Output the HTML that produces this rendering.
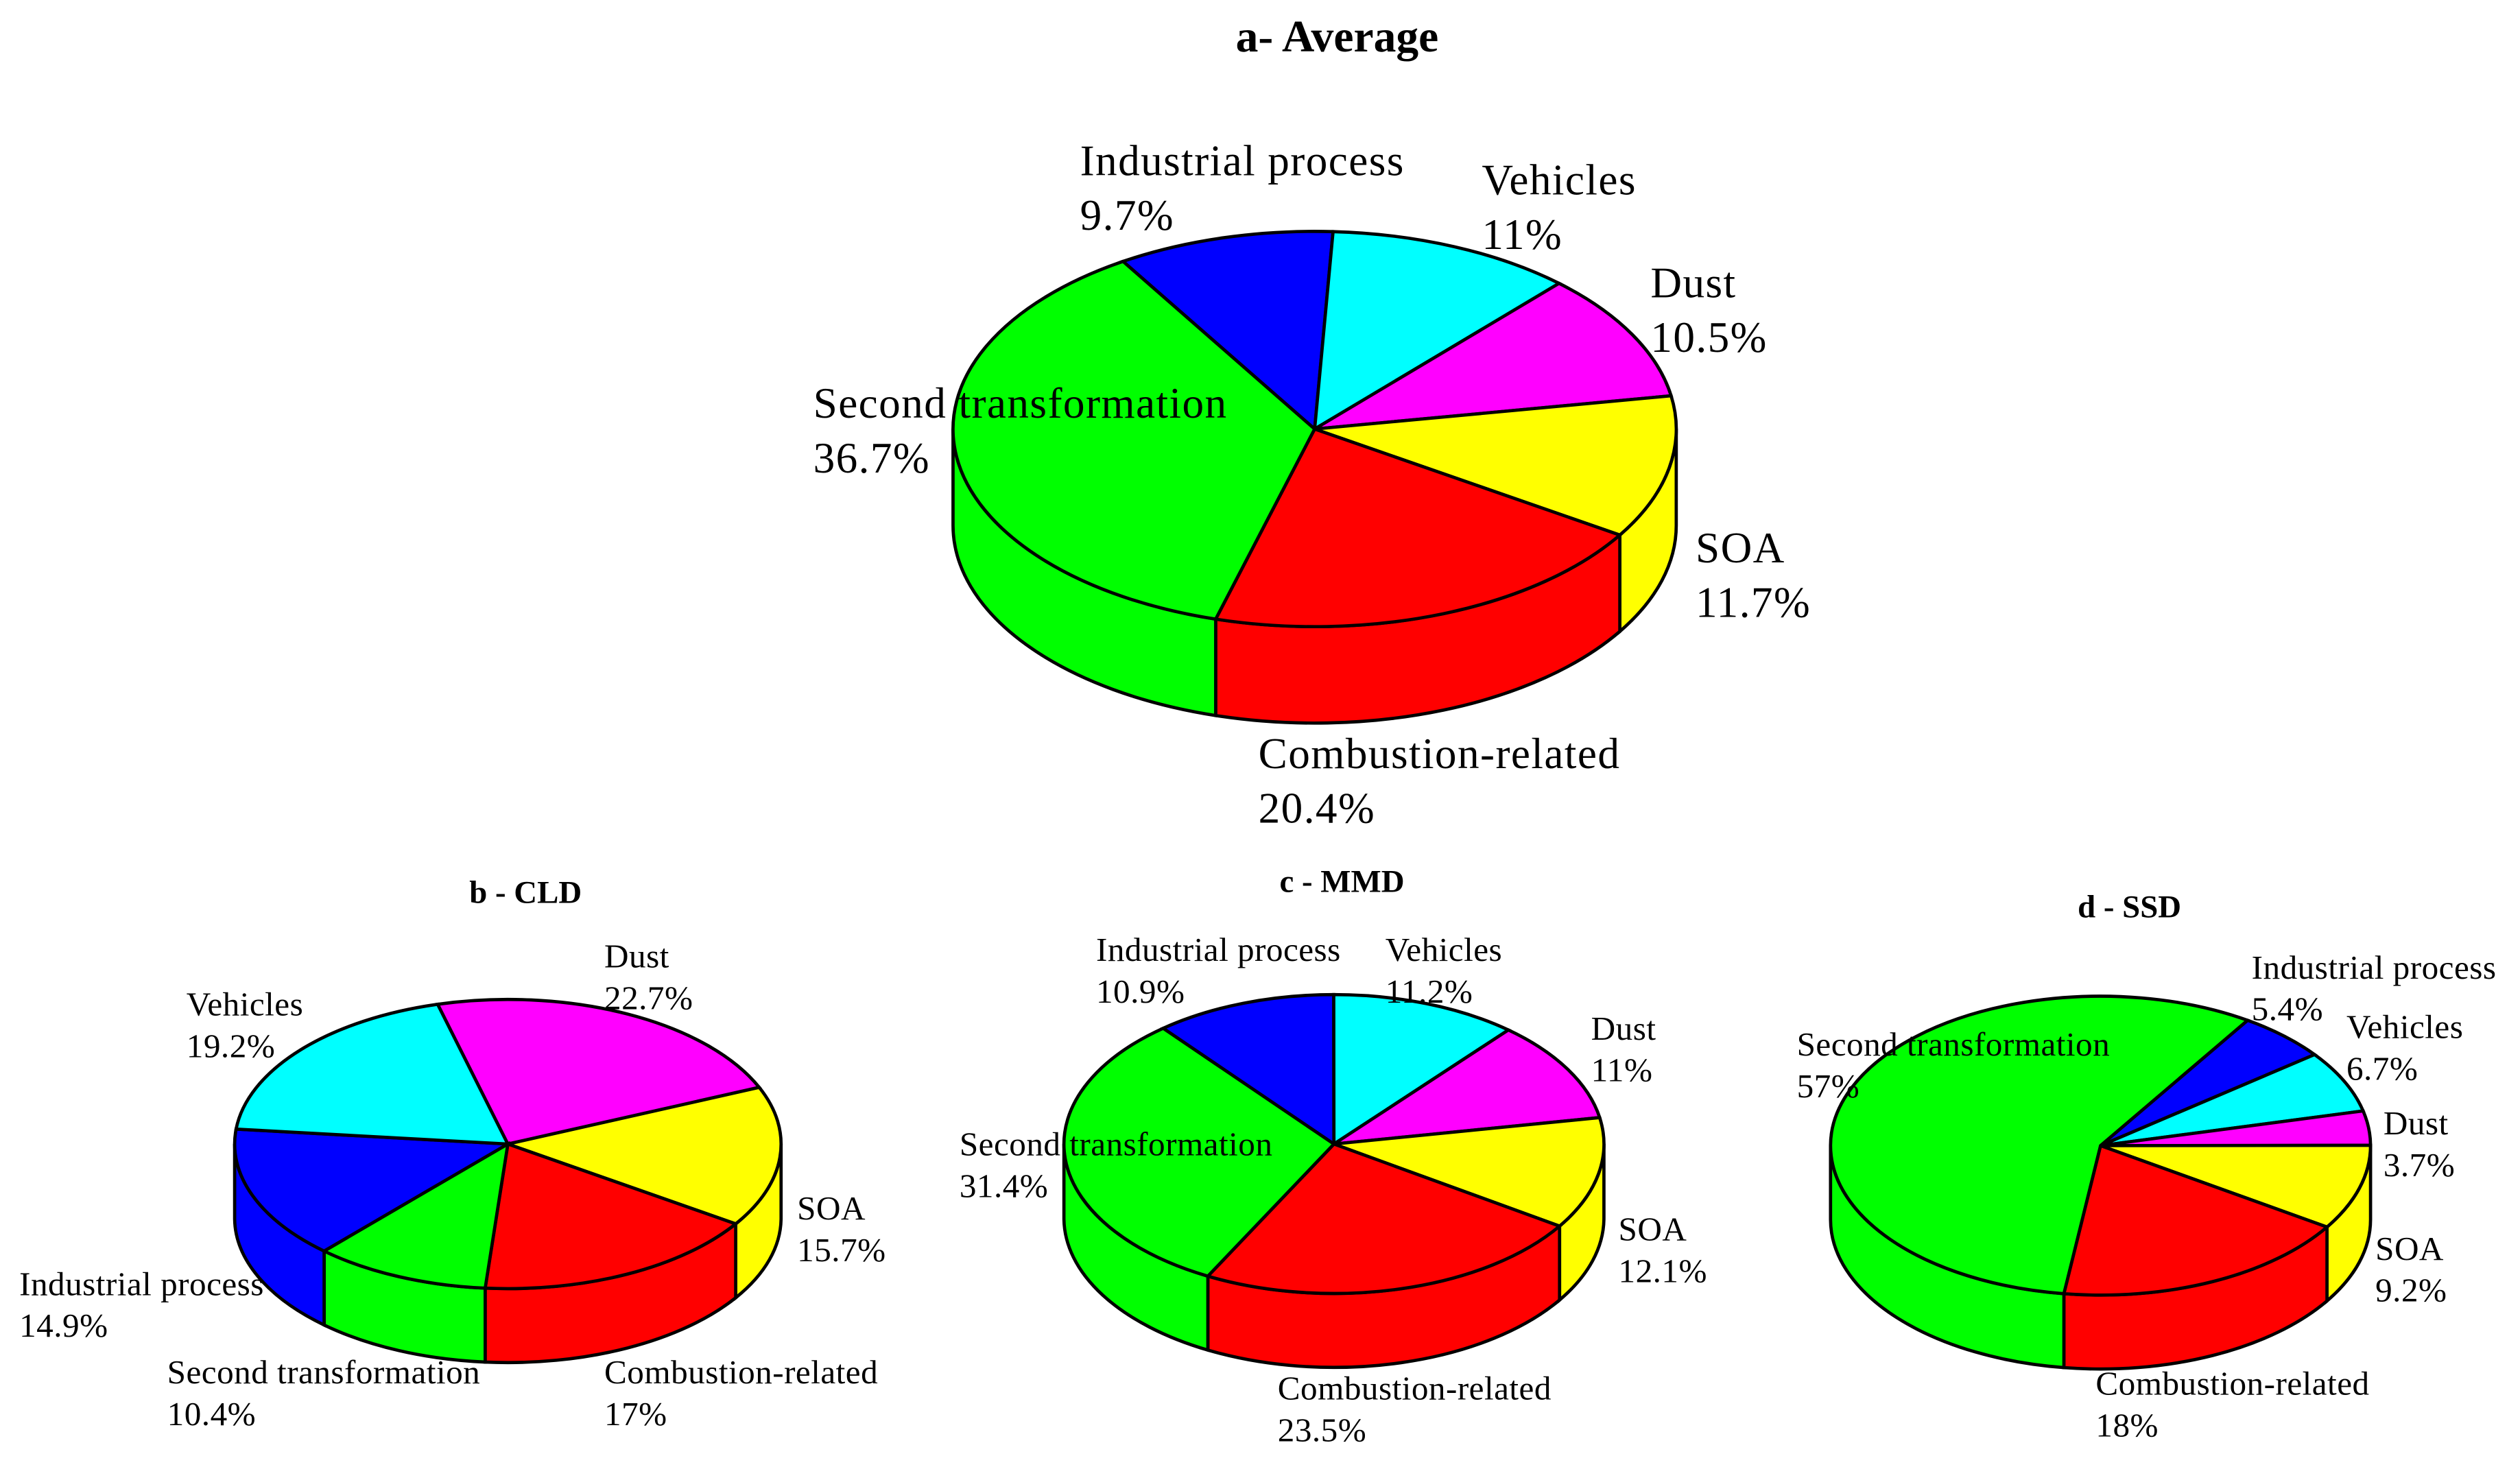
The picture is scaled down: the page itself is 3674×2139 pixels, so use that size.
<!DOCTYPE html>
<html><head><meta charset="utf-8"><style>
html,body{margin:0;padding:0;background:#fff;}
svg{display:block;}
text{font-family:"Liberation Serif",serif;fill:#000;}
</style></head><body>
<svg id="chart" width="3674" height="2139" viewBox="0 0 1568 913" preserveAspectRatio="none" xmlns="http://www.w3.org/2000/svg">
<rect width="1568" height="913" fill="#fff"/>
<text x="832" y="32" font-size="28" font-weight="bold" text-anchor="middle">a- Average</text>
<text x="327" y="562" font-size="20" font-weight="bold" text-anchor="middle">b - CLD</text>
<text x="835" y="555" font-size="20" font-weight="bold" text-anchor="middle">c - MMD</text>
<text x="1325" y="571" font-size="20" font-weight="bold" text-anchor="middle">d - SSD</text>
<g id="pies"></g>
<g id="labels"></g>
</svg>
<script>
// Category names and colors
const categories = ["Industrial process","Vehicles","Dust","SOA","Combustion-related","Second transformation"];
const colors = ["#0000ff","#00ffff","#ff00ff","#ffff00","#ff0000","#00ff00"];
// Percent values per panel (same category order)
const valuesA = [9.7, 11, 10.5, 11.7, 20.4, 36.7];
const valuesB = [14.9, 19.2, 22.7, 15.7, 17, 10.4];
const valuesC = [10.9, 11.2, 11, 12.1, 23.5, 31.4];
const valuesD = [5.4, 6.7, 3.7, 9.2, 18, 57];

// geometry (not data)
const panels = [
 {id:"a", vals:valuesA, cx:818, cy:267, rx:225, ry:123, d:60, start:-32, fs:27, ls:0.6,
  lab:[[672,109],[922,121],[1027,185],[1055,350],[783,478],[506,260]], lh:34},
 {id:"b", vals:valuesB, cx:316, cy:712, rx:170, ry:90, d:46, start:-15-(14.9+19.2)*3.6, fs:21, ls:0.2,
  lab:[[12,806],[116,632],[376,602],[496,759],[376,861],[104,861]], lh:26},
 {id:"c", vals:valuesC, cx:830, cy:712, rx:168, ry:93, d:46, start:-10.9*3.6, fs:21, ls:0.2,
  lab:[[682,598],[862,598],[990,647],[1007,772],[795,871],[597,719]], lh:26},
 {id:"d", vals:valuesD, cx:1307, cy:713, rx:168, ry:93, d:46, start:33, fs:21, ls:0.2,
  lab:[[1401,609],[1460,646],[1483,706],[1478,784],[1304,868],[1118,657]], lh:26}
];
const NS="http://www.w3.org/2000/svg";
const pies=document.getElementById("pies"), labels=document.getElementById("labels");
function pt(p,t,dy){const r=t*Math.PI/180;return [p.cx+p.rx*Math.sin(r), p.cy-p.ry*Math.cos(r)+(dy||0)];}
function f(a){return a[0].toFixed(2)+","+a[1].toFixed(2);}
panels.forEach(p=>{
  const g=document.createElementNS(NS,"g");
  
  
  pies.appendChild(g);
  const total=p.vals.reduce((s,v)=>s+v,0);
  let a=p.start; const angs=[];
  p.vals.forEach(v=>{const b=a+v/total*360; angs.push([a,b]); a=b;});
  angs.forEach((ab,i)=>{
    for(let k=-1;k<=1;k++){
      const s=Math.max(ab[0],90+360*k), e=Math.min(ab[1],270+360*k);
      if(e>s){
        const path=document.createElementNS(NS,"path");
        const large=(e-s)>180?1:0;
        const dstr="M"+f(pt(p,s))+" A"+p.rx+","+p.ry+" 0 "+large+" 1 "+f(pt(p,e))+" L"+f(pt(p,e,p.d))+" A"+p.rx+","+p.ry+" 0 "+large+" 0 "+f(pt(p,s,p.d))+" Z";
        path.setAttribute("d",dstr);
        path.setAttribute("fill",colors[i]);
        path.setAttribute("stroke","#000");
        path.setAttribute("stroke-width","2");
        
        
        g.appendChild(path);
      }
    }
  });
  angs.forEach((ab,i)=>{
    const path=document.createElementNS(NS,"path");
    const large=(ab[1]-ab[0])>180?1:0;
    path.setAttribute("d","M"+p.cx+","+p.cy+" L"+f(pt(p,ab[0]))+" A"+p.rx+","+p.ry+" 0 "+large+" 1 "+f(pt(p,ab[1]))+" Z");
    path.setAttribute("fill",colors[i]);
    path.setAttribute("stroke","#000");
    path.setAttribute("stroke-width","2");
    
    
    g.appendChild(path);
  });
  p.vals.forEach((v,i)=>{
    const t=document.createElementNS(NS,"text");
    t.setAttribute("x",p.lab[i][0]); t.setAttribute("y",p.lab[i][1]);
    t.setAttribute("font-size",p.fs);
    t.setAttribute("letter-spacing",p.ls);
    
    
    const s1=document.createElementNS(NS,"tspan"); s1.textContent=categories[i];
    s1.setAttribute("x",p.lab[i][0]);
    const s2=document.createElementNS(NS,"tspan"); s2.textContent=v+"%";
    s2.setAttribute("x",p.lab[i][0]); s2.setAttribute("dy",p.lh);
    t.appendChild(s1); t.appendChild(s2);
    labels.appendChild(t);
  });
});
</script>
</body></html>
